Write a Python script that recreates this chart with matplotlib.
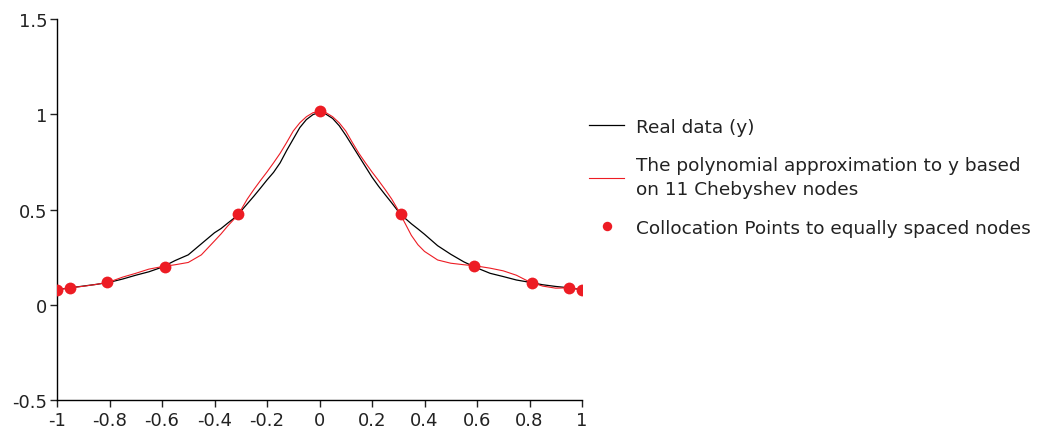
import matplotlib
matplotlib.use("Agg")
import matplotlib.pyplot as plt

plt.rcParams['font.family'] = ['DejaVu Sans']

# Real data (y)
x_real = [-1.00, -0.95, -0.90, -0.85, -0.80, -0.75, -0.70, -0.65, -0.60, -0.55,
          -0.50, -0.45, -0.40, -0.375, -0.35, -0.325, -0.30, -0.275, -0.25, -0.225,
          -0.20, -0.175, -0.15, -0.125, -0.10, -0.075, -0.05, -0.025, 0.00, 0.025,
          0.05, 0.075, 0.10, 0.125, 0.15, 0.175, 0.20, 0.225, 0.25, 0.275,
          0.30, 0.325, 0.35, 0.375, 0.40, 0.45, 0.50, 0.55, 0.60, 0.65,
          0.70, 0.75, 0.80, 0.85, 0.90, 0.95, 1.00]
y_real = [0.079, 0.089, 0.098, 0.107, 0.118, 0.135, 0.155, 0.173, 0.197, 0.232,
          0.262, 0.320, 0.378, 0.400, 0.428, 0.455, 0.490, 0.530, 0.570, 0.612,
          0.655, 0.695, 0.745, 0.810, 0.870, 0.930, 0.972, 0.998, 1.010, 1.000,
          0.978, 0.940, 0.890, 0.835, 0.780, 0.725, 0.670, 0.622, 0.578, 0.535,
          0.490, 0.455, 0.425, 0.398, 0.370, 0.310, 0.265, 0.225, 0.193, 0.165,
          0.148, 0.130, 0.118, 0.105, 0.096, 0.089, 0.079]

# Polynomial approximation
x_poly = x_real
y_poly = [0.079, 0.089, 0.097, 0.107, 0.120, 0.145, 0.165, 0.187, 0.200, 0.210,
          0.222, 0.262, 0.335, 0.372, 0.413, 0.450, 0.496, 0.555, 0.605, 0.652,
          0.697, 0.745, 0.795, 0.852, 0.912, 0.955, 0.987, 1.008, 1.015, 1.008,
          0.987, 0.955, 0.912, 0.852, 0.795, 0.745, 0.697, 0.652, 0.605, 0.555,
          0.496, 0.430, 0.364, 0.315, 0.280, 0.235, 0.218, 0.210, 0.203, 0.192,
          0.178, 0.155, 0.120, 0.098, 0.087, 0.089, 0.079]

# Collocation points
x_pts = [-1.0, -0.95, -0.81, -0.59, -0.31, 0.0, 0.31, 0.59, 0.81, 0.95, 1.0]
y_pts = [0.08, 0.09, 0.12, 0.20, 0.475, 1.015, 0.475, 0.205, 0.115, 0.09, 0.08]

xticks = [-1, -0.8, -0.6, -0.4, -0.2, 0, 0.2, 0.4, 0.6, 0.8, 1]
xtick_labels = ['-1', '-0.8', '-0.6', '-0.4', '-0.2', '0', '0.2', '0.4', '0.6', '0.8', '1']
yticks = [-0.5, 0, 0.5, 1, 1.5]
ytick_labels = ['-0.5', '0', '0.5', '1', '1.5']

RED = '#ed1c24'

fig = plt.figure(figsize=(10.37, 4.35), dpi=100)
ax = fig.add_axes([57/1037, 1 - 401/435, (582-57)/1037, (401-20)/435])

ax.plot(x_real, y_real, color='black', lw=0.9, label='Real data (y)', zorder=2)
ax.plot(x_poly, y_poly, color=RED, lw=0.8,
        label='The polynomial approximation to y based\non 11 Chebyshev nodes', zorder=3)
ax.plot(x_pts, y_pts, 'o', color=RED, ms=8.5, mec='none',
        label='Collocation Points to equally spaced nodes', zorder=4)

ax.set_xlim(-1, 1)
ax.set_ylim(-0.5, 1.5)
ax.set_xticks(xticks)
ax.set_xticklabels(xtick_labels)
ax.set_yticks(yticks)
ax.set_yticklabels(ytick_labels)
for s in ['top', 'right']:
    ax.spines[s].set_visible(False)
for s in ['left', 'bottom']:
    ax.spines[s].set_linewidth(1.0)
ax.tick_params(direction='out', length=5, width=1.0, labelsize=13, colors='#222222', pad=2)
ax.tick_params(axis='x', pad=3)

leg = ax.legend(loc='upper left', bbox_to_anchor=(1.0, 0.76), frameon=False,
                fontsize=13.3, handlelength=1.9, handletextpad=0.6,
                labelspacing=1.1, borderaxespad=0.0, markerscale=0.8)
for t in leg.get_texts():
    t.set_color('#222222')
    t.set_linespacing(1.45)

fig.savefig('out.png', dpi=100)
